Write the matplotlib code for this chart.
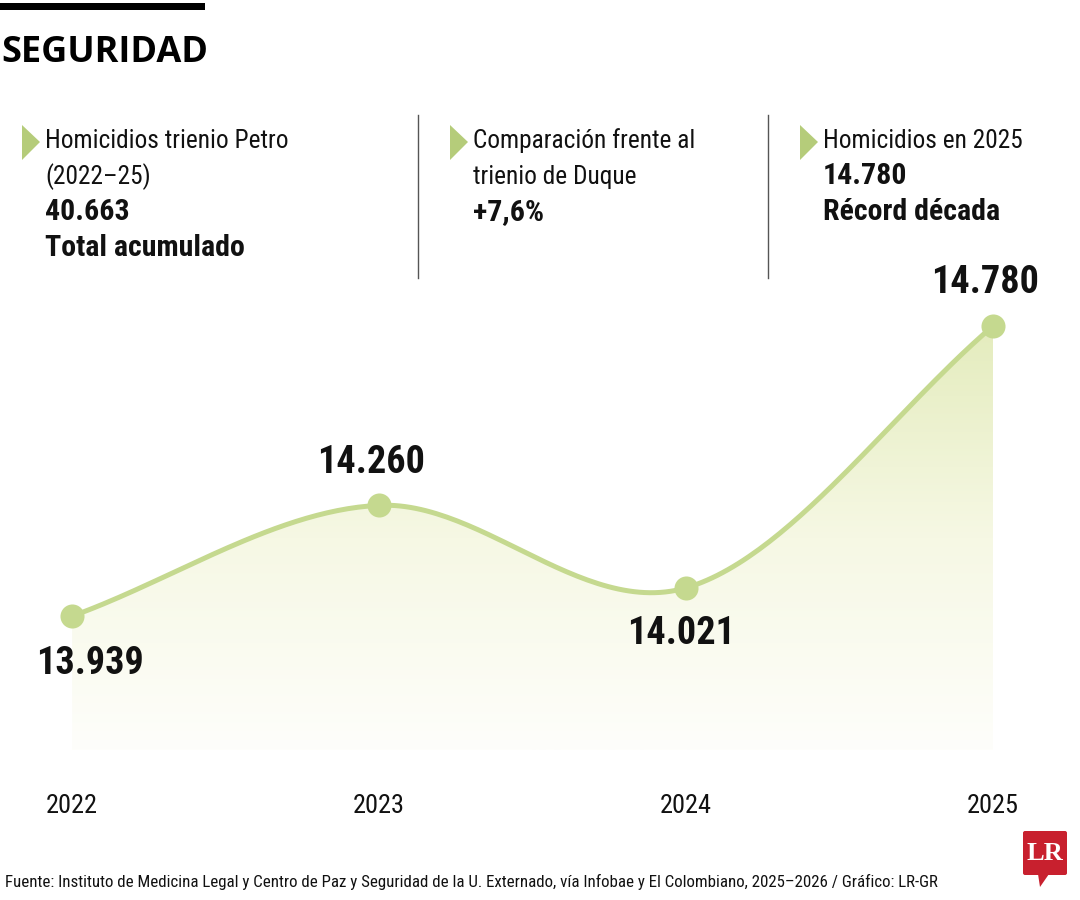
import numpy as np
import matplotlib
matplotlib.use('Agg')
import matplotlib.pyplot as plt
from matplotlib import font_manager
from matplotlib.patches import Polygon, FancyBboxPatch
from matplotlib.colors import LinearSegmentedColormap

# datos
years = [2022, 2023, 2024, 2025]
homicidios = [13939, 14260, 14021, 14780]
label_above = [False, True, False, True]

block_titles = [["Homicidios trienio Petro", "(2022–25)"],
                ["Comparación frente al", "trienio de Duque"],
                ["Homicidios en 2025"]]
block_values = [["40.663", "Total acumulado"],
                ["+7,6%"],
                ["14.780", "Récord década"]]

fuente = ("Fuente: Instituto de Medicina Legal y Centro de Paz y Seguridad de la U. Externado, "
          "vía Infobae y El Colombiano, 2025–2026 / Gráfico: LR-GR")

# fuente condensada si existe
names = {f.name for f in font_manager.fontManager.ttflist}
cond = 'DejaVu Sans'
for n in ['Liberation Sans Narrow', 'Roboto Condensed', 'Open Sans Condensed']:
    if n in names:
        cond = n
        break

verde = '#c5d98f'
verde_tri = '#b5cc7a'
negro = '#111111'

fig = plt.figure(figsize=(10.8, 9), dpi=100)

# capa base en pixeles
base = fig.add_axes([0, 0, 1, 1])
base.set_xlim(0, 1080)
base.set_ylim(900, 0)
base.axis('off')

base.add_patch(plt.Rectangle((0, 3), 205, 7, color='black', lw=0))
base.text(1, 62, "SEGURIDAD", family='Open Sans', weight='bold', fontsize=26,
          color='black', va='baseline', ha='left')

# bloques de texto
bx = [22, 450, 800]
for i in range(3):
    x = bx[i]
    base.add_patch(Polygon([[x, 125], [x, 160], [x + 18, 142]], closed=True,
                           color=verde_tri, lw=0))
    y = 148
    for t in block_titles[i]:
        base.text(x + 23, y, t, family=cond, fontsize=18.3, color=negro, va='baseline')
        y += 36
    for t in block_values[i]:
        base.text(x + 23, y, t, family=cond, fontsize=21.5, weight='bold',
                  color=negro, va='baseline')
        y += 36

for sx in [418, 768]:
    base.plot([sx, sx], [115, 278], color='#555555', lw=1)

base.text(5, 882, fuente, family=cond, fontsize=12.2, color=negro, va='center')

# logo LR
base.add_patch(FancyBboxPatch((1023, 831), 44, 44,
                              boxstyle='round,pad=0,rounding_size=2',
                              fc='#c8202e', ec='none'))
base.add_patch(Polygon([[1038, 874], [1049, 874], [1040, 887]], closed=True,
                       fc='#c8202e', ec='none'))
base.text(1045, 854, "LR", family='Liberation Serif', weight='bold', fontsize=19,
          color='white', ha='center', va='center')

# grafica
ax = fig.add_axes([0, 150 / 900, 1, 500 / 900])
ax.patch.set_alpha(0)
ax.set_xlim(2021.765, 2025.283)
ax.set_ylim(13551, 15000)
for s in ax.spines.values():
    s.set_visible(False)
ax.set_yticks([])
ax.set_xticks(years)
ax.set_xticklabels([str(y) for y in years], family=cond, fontsize=19, color=negro)
ax.tick_params(axis='x', length=0, pad=32)

# curva suavizada (Catmull-Rom) por los puntos
xp = np.array(years, dtype=float)
yp = np.array(homicidios, dtype=float)
m = np.zeros_like(yp)
m[1:-1] = (yp[2:] - yp[:-2]) / 2
m[0] = yp[1] - yp[0]
m[-1] = yp[-1] - yp[-2]
xs, ys = [], []
for i in range(len(xp) - 1):
    t = np.linspace(0, 1, 60)
    h00 = 2 * t**3 - 3 * t**2 + 1
    h10 = t**3 - 2 * t**2 + t
    h01 = -2 * t**3 + 3 * t**2
    h11 = t**3 - t**2
    xs.append(xp[i] + t * (xp[i + 1] - xp[i]))
    ys.append(h00 * yp[i] + h10 * m[i] + h01 * yp[i + 1] + h11 * m[i + 1])
xs = np.concatenate(xs)
ys = np.concatenate(ys)

# relleno degradado
poly = ax.fill_between(xs, ys, 13551, facecolor='none', lw=0)
cmap = LinearSegmentedColormap.from_list('g', ['#fefefb', '#f6f8e4', '#e4ecbd'])
grad = np.linspace(0, 1, 256).reshape(-1, 1)
im = ax.imshow(grad, extent=[2022, 2025, 13551, max(homicidios)], origin='lower',
               aspect='auto', cmap=cmap, zorder=1)
im.set_clip_path(poly.get_paths()[0], transform=ax.transData)

ax.plot(xs, ys, color=verde, lw=3.6, zorder=3, solid_capstyle='round')
ax.scatter(years, homicidios, s=300, color=verde, zorder=4, clip_on=False, lw=0)

offs = {2022: (13, -34), 2023: (-6, 31), 2024: (-4, -33), 2025: (-6, 31)}
for x, v, up in zip(years, homicidios, label_above):
    lab = f"{v:,}".replace(',', '.')
    ax.annotate(lab, (x, v), xytext=offs[x], textcoords='offset points',
                ha='center', va='center', family=cond, weight='bold',
                fontsize=27.5, color=negro, zorder=5)

fig.savefig('out.png', dpi=100)
